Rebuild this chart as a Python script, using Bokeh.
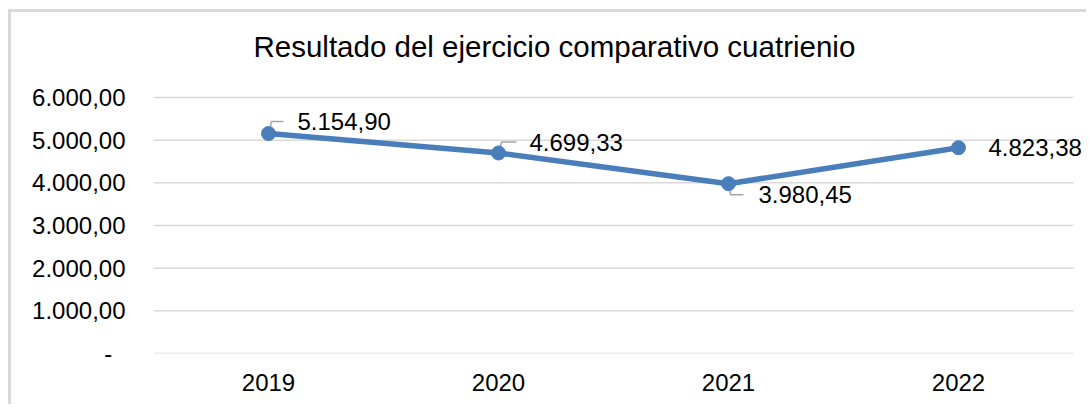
from bokeh.plotting import figure
from bokeh.models import Range1d, FixedTicker, ColumnDataSource, LabelSet, Label
from bokeh.core.properties import value
from bokeh.embed import file_html
from bokeh.resources import INLINE

# ---- data ----
years = ["2019", "2020", "2021", "2022"]
resultado = [5154.90, 4699.33, 3980.45, 4823.38]
value_labels = ["5.154,90", "4.699,33", "3.980,45", "4.823,38"]
y_ticks = [0, 1000, 2000, 3000, 4000, 5000, 6000]
y_tick_labels = ["-\u00a0\u00a0", "1.000,00", "2.000,00", "3.000,00", "4.000,00", "5.000,00", "6.000,00"]
title_text = "Resultado del ejercicio comparativo  cuatrienio"

# ---- styles / layout ----
FONT = "Liberation Sans"
BLUE = "#4a7ebb"
GRID = "#d9d9d9"
W, H = 1078, 395
ML = 142                 # left border (axis labels)
PLOT_W, PLOT_H = 920, 256  # visible plotting area (gridline extent / 0..6000)
TOP_SPACE = 85           # space above the 6000 gridline (title lives here)
MB = H - TOP_SPACE - PLOT_H
Y_MAX = 6000

px_x = PLOT_W / len(years)   # pixels per category
px_y = PLOT_H / Y_MAX        # pixels per unit
x_start = -0.5
x_grid_end = len(years) - 0.5
x_end = x_start + (W - ML) / px_x
y_end = Y_MAX + TOP_SPACE / px_y

label_dx = [29, 31, 30, 30]
label_dy = [12, 10, -11, 0]   # screen pixels, up positive
leader_shapes = {0: [(1, 3), (3, 12), (15, 12)],
                 1: [(1, 3), (3, 11), (18, 11)],
                 2: [(1, -3), (2, -11), (15, -11)]}

p = figure(width=W, height=H, output_backend="svg", toolbar_location=None,
           x_range=Range1d(x_start, x_end), y_range=Range1d(0, y_end),
           min_border_left=ML, min_border_right=0, min_border_top=0, min_border_bottom=MB,
           styles={"margin-left": "8px", "margin-top": "9px",
                   "border-left": "3px solid #d9d9d9", "border-top": "3px solid #d9d9d9"})
p.outline_line_color = None
p.background_fill_color = "white"
p.border_fill_color = "white"

xs = list(range(len(years)))

# axes
p.xaxis.ticker = FixedTicker(ticks=xs)
p.xaxis.major_label_overrides = {i: y for i, y in zip(xs, years)}
p.yaxis.ticker = FixedTicker(ticks=y_ticks)
p.yaxis.major_label_overrides = {t: l for t, l in zip(y_ticks, y_tick_labels)}
for ax in (p.xaxis[0], p.yaxis[0]):
    ax.major_label_text_font = FONT
    ax.major_label_text_font_size = "24px"
    ax.major_label_text_color = "#000000"
    ax.major_tick_line_color = None
    ax.minor_tick_line_color = None
    ax.axis_line_color = None
p.yaxis.major_label_standoff = 22
p.xaxis.major_label_standoff = 14

# horizontal gridlines limited to the category span
p.xgrid.grid_line_color = None
p.ygrid.grid_line_color = None
p.segment(x0=[x_start] * len(y_ticks), x1=[x_grid_end] * len(y_ticks),
          y0=y_ticks, y1=y_ticks, line_color=GRID, line_width=1.5)

# chart title
p.add_layout(Label(x=x_start, y=Y_MAX, x_offset=100, y_offset=51, text=title_text,
                   text_font=FONT, text_font_size="29.5px", text_color="#000000",
                   text_align="left", text_baseline="middle"))

# leader lines (pixel offsets converted through the scale)
lx, ly = [], []
for i, shape in leader_shapes.items():
    lx.append([xs[i] + dx / px_x for dx, dy in shape])
    ly.append([resultado[i] + dy / px_y for dx, dy in shape])
p.multi_line(lx, ly, line_color="#a6a6a6", line_width=1.5)

src = ColumnDataSource(dict(x=xs, y=resultado, lab=value_labels, dx=label_dx, dy=label_dy))
p.line("x", "y", source=src, line_color=BLUE, line_width=5.5)
p.scatter("x", "y", source=src, size=14, fill_color=BLUE, line_color=BLUE)
p.add_layout(LabelSet(x="x", y="y", text="lab", source=src, x_offset="dx", y_offset="dy",
                      text_font=value(FONT), text_font_size=value("24px"),
                      text_color=value("#000000"),
                      text_align="left", text_baseline="middle"))

open("out.html", "w").write(file_html(p, INLINE))
